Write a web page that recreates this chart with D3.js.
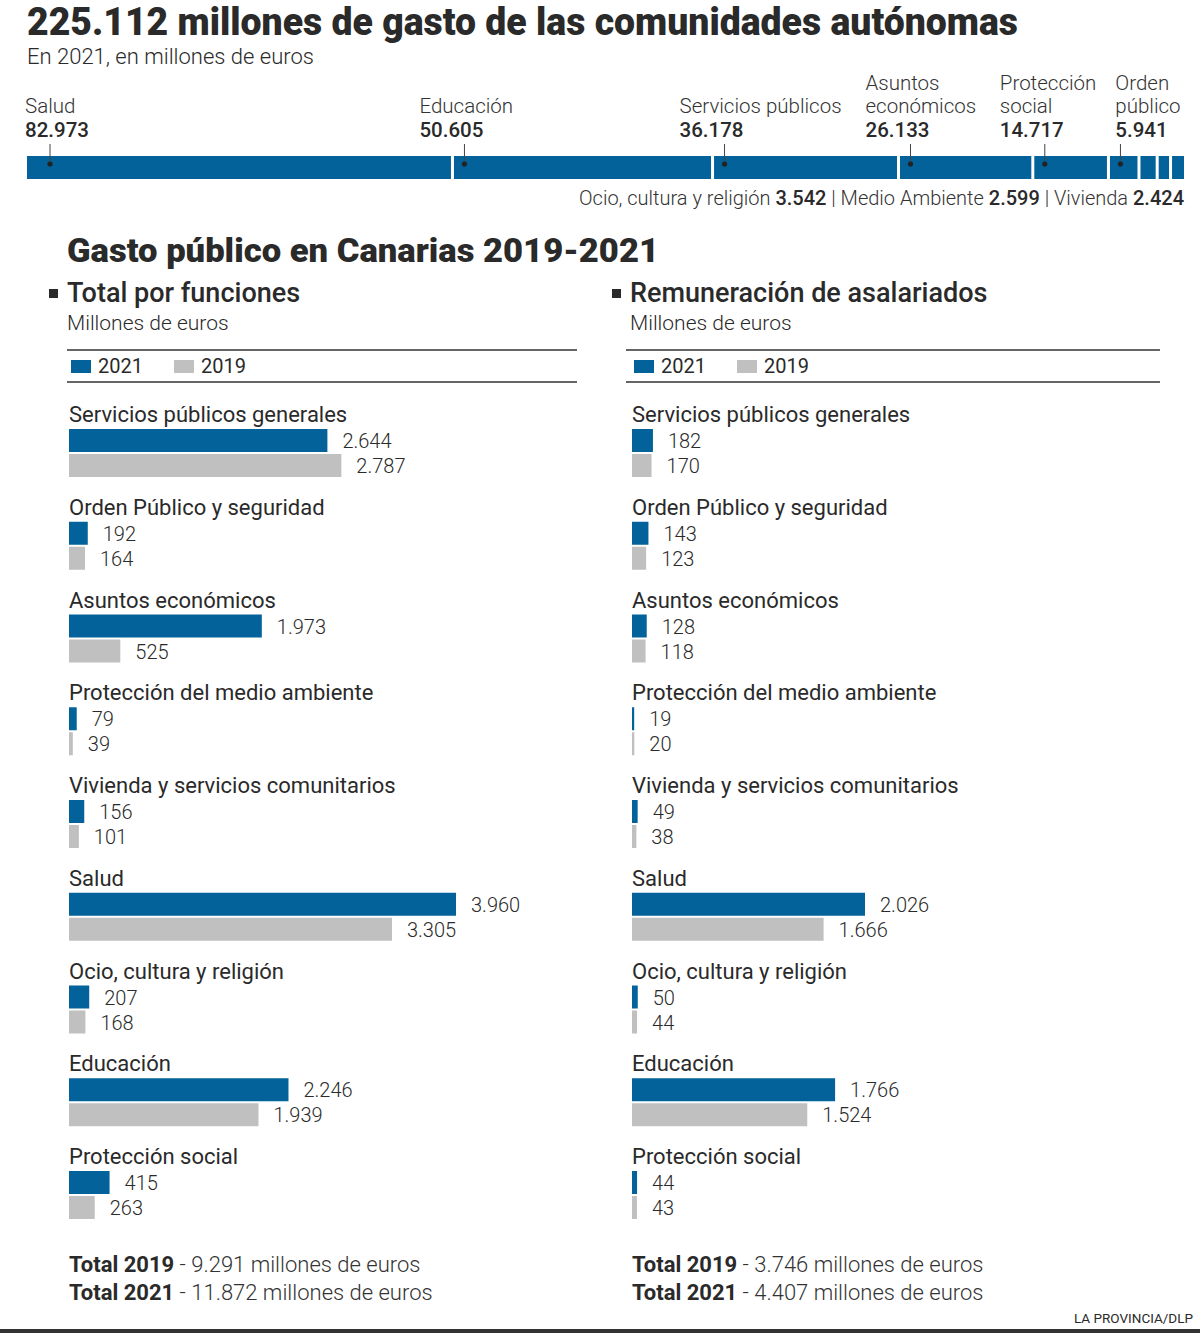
<!DOCTYPE html>
<html>
<head>
<meta charset="utf-8">
<script src="https://cdn.jsdelivr.net/npm/d3@7"></script>
<style>
  html, body { margin: 0; padding: 0; background: #fff; }
  svg { display: block; }
  text { font-family: Roboto, "Noto Sans", sans-serif; fill: #2a2a2a; }
</style>
</head>
<body>
<svg id="chart" width="1200" height="1333"></svg>
<script>
// ---------- DATA ----------
const topCategories = ["Salud", "Educación", "Servicios públicos", "Asuntos económicos", "Protección social", "Orden público", "Ocio, cultura y religión", "Medio Ambiente", "Vivienda"];
const topLabelLines = [["Salud"], ["Educación"], ["Servicios públicos"], ["Asuntos", "económicos"], ["Protección", "social"], ["Orden", "público"]];
const topValues = [82973, 50605, 36178, 26133, 14717, 5941, 3542, 2599, 2424];
const topTotal = 225112;

const categories = ["Servicios públicos generales", "Orden Público y seguridad", "Asuntos económicos", "Protección del medio ambiente", "Vivienda y servicios comunitarios", "Salud", "Ocio, cultura y religión", "Educación", "Protección social"];
const funciones2021 = [2644, 192, 1973, 79, 156, 3960, 207, 2246, 415];
const funciones2019 = [2787, 164, 525, 39, 101, 3305, 168, 1939, 263];
const remuneracion2021 = [182, 143, 128, 19, 49, 2026, 50, 1766, 44];
const remuneracion2019 = [170, 123, 118, 20, 38, 1666, 44, 1524, 43];
const legendYears = ["2021", "2019"];
const totalYears = ["2019", "2021"];
const funcionesTotals = [9291, 11872];
const remuneracionTotals = [3746, 4407];

// ---------- STYLE ----------
const BLUE = "#03629a";
const GRAY = "#c0c0c0";
const DARK = "#2a2a2a";

const es = d3.formatLocale({ decimal: ",", thousands: ".", grouping: [3], currency: ["", " €"] });
const fmt = es.format(",d");

const svg = d3.select("#chart");

// ---------- HEADER ----------
svg.append("text")
  .attr("x", 27).attr("y", 35)
  .attr("font-size", 39).attr("font-weight", 900)
  .attr("textLength", 991).attr("lengthAdjust", "spacingAndGlyphs")
  .text("225.112 millones de gasto de las comunidades autónomas");

svg.append("text")
  .attr("x", 27).attr("y", 64)
  .attr("font-size", 22).attr("font-weight", 300).attr("fill", "#333")
  .text("En 2021, en millones de euros");

// stacked bar
const topX = d3.scaleLinear().domain([0, topTotal]).range([27, 1184]);
const cum = d3.cumsum(topValues);
const segs = topValues.map((v, i) => ({ name: topCategories[i], value: v, start: cum[i] - v, end: cum[i], i }));

svg.append("g").selectAll("rect").data(segs).join("rect")
  .attr("x", d => topX(d.start) + (d.i > 0 ? 0.5 : 0))
  .attr("y", 156)
  .attr("width", d => topX(d.end) - topX(d.start) - (d.i < segs.length - 1 ? 2.5 : 0) - (d.i > 0 ? 0.5 : 0))
  .attr("height", 23)
  .attr("fill", BLUE);

// labelled segments
const labelled = segs.slice(0, topLabelLines.length);
const lg = svg.append("g");
let prevRight = -Infinity;
labelled.forEach((d, i) => {
  const dotX = topX(d.start) + (i === 0 ? 23 : 11);
  lg.append("line").attr("x1", dotX).attr("x2", dotX).attr("y1", 144).attr("y2", 164)
    .attr("stroke", "#444").attr("stroke-width", 1);
  lg.append("circle").attr("cx", dotX).attr("cy", 164).attr("r", 2.6).attr("fill", "#222");
  const t = lg.append("text").attr("font-size", 20.5);
  const lines = topLabelLines[i];
  lines.forEach((ln, j) => {
    t.append("tspan").attr("x", 0).attr("y", 113 - (lines.length - 1 - j) * 23)
      .attr("font-weight", 300).attr("fill", "#333").text(ln);
  });
  t.append("tspan").attr("x", 0).attr("y", 137).attr("font-weight", 500).attr("fill", DARK).text(fmt(d.value));
  const w = t.node().getBBox().width;
  let lx = Math.max(25, dotX - 45, prevRight + 19);
  t.attr("transform", `translate(${lx},0)`);
  prevRight = lx + w;
});

// remaining note
const note = svg.append("text").attr("x", 1184).attr("y", 205).attr("text-anchor", "end").attr("font-size", 20);
segs.slice(topLabelLines.length).forEach((d, i, arr) => {
  note.append("tspan").attr("font-weight", 300).attr("fill", "#333").text(d.name + " ");
  note.append("tspan").attr("font-weight", 500).text(fmt(d.value));
  if (i < arr.length - 1) note.append("tspan").attr("font-weight", 300).attr("fill", "#333").text(" | ");
});

// ---------- SECTION TITLE ----------
svg.append("text")
  .attr("x", 67).attr("y", 262)
  .attr("font-size", 34).attr("font-weight", 900)
  .attr("textLength", 592).attr("lengthAdjust", "spacingAndGlyphs")
  .text("Gasto público en Canarias 2019-2021");

// ---------- PANELS ----------
const yCat = d3.scaleBand().domain(categories).range([399, 399 + 92.75 * categories.length]);

function panel(offsetX, title, v2021, v2019, xMax, xRight, totals, ruleX1, ruleX2) {
  const g = svg.append("g").attr("transform", `translate(${offsetX},0)`);
  g.append("rect").attr("x", 49).attr("y", 289).attr("width", 9).attr("height", 9).attr("fill", DARK);
  g.append("text").attr("x", 67).attr("y", 302).attr("font-size", 27).attr("font-weight", 500).text(title);
  g.append("text").attr("x", 67).attr("y", 330).attr("font-size", 21).attr("font-weight", 300).attr("fill", "#333").text("Millones de euros");

  [350, 382].forEach(yy => {
    g.append("line").attr("x1", ruleX1).attr("x2", ruleX2).attr("y1", yy).attr("y2", yy)
      .attr("stroke", "#333").attr("stroke-width", 1.5);
  });
  const legendColors = [BLUE, GRAY];
  legendYears.forEach((yr, i) => {
    g.append("rect").attr("x", 71 + i * 103).attr("y", 360).attr("width", 20).attr("height", 13).attr("fill", legendColors[i]);
    g.append("text").attr("x", 98 + i * 103).attr("y", 373).attr("font-size", 20).attr("font-weight", 400).text(yr);
  });

  const x = d3.scaleLinear().domain([0, xMax]).range([69, xRight]);
  const rows = categories.map((c, i) => ({ c, a: v2021[i], b: v2019[i] }));
  const rg = g.selectAll("g.row").data(rows).join("g").attr("class", "row")
    .attr("transform", d => `translate(0,${yCat(d.c)})`);
  rg.append("text").attr("x", 69).attr("y", 23).attr("font-size", 22).attr("font-weight", 400).text(d => d.c);
  const bars = [{ k: "a", y: 30, col: BLUE }, { k: "b", y: 55, col: GRAY }];
  bars.forEach(b => {
    rg.append("rect").attr("x", x(0)).attr("y", b.y).attr("height", 23)
      .attr("width", d => Math.max(2, x(d[b.k]) - x(0))).attr("fill", b.col);
    rg.append("text").attr("x", d => Math.max(x(0) + 2, x(d[b.k])) + 15).attr("y", b.y + 19)
      .attr("font-size", 20).attr("font-weight", 300).attr("fill", "#333").text(d => fmt(d[b.k]));
  });

  totalYears.forEach((yr, i) => {
    const t = g.append("text").attr("x", 69).attr("y", 1272 + i * 28).attr("font-size", 22);
    t.append("tspan").attr("font-weight", 700).attr("fill", DARK).text("Total " + yr);
    t.append("tspan").attr("font-weight", 300).attr("fill", "#333").text(" - " + fmt(totals[i]) + " millones de euros");
  });
}

panel(0, "Total por funciones", funciones2021, funciones2019, 3960, 456, funcionesTotals, 67, 577);
panel(563, "Remuneración de asalariados", remuneracion2021, remuneracion2019, 2026, 865 - 563, remuneracionTotals, 626 - 563, 1160 - 563);

// ---------- FOOTER ----------
svg.append("text").attr("x", 1193).attr("y", 1323).attr("text-anchor", "end").attr("font-size", 13.5).attr("fill", "#333").text("LA PROVINCIA/DLP");
svg.append("rect").attr("x", 0).attr("y", 1329).attr("width", 1200).attr("height", 4).attr("fill", "#333");
</script>
</body>
</html>
